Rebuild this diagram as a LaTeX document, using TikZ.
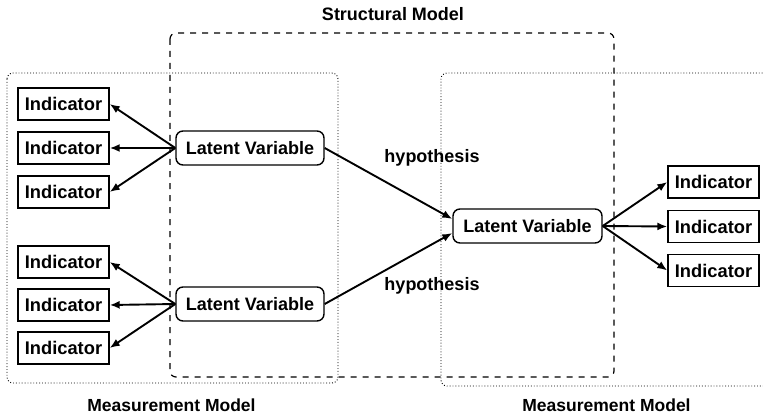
\documentclass[tikz,border=0pt]{standalone}
\usepackage{fontspec}
\setmainfont{Liberation Sans}
\usetikzlibrary{arrows.meta,calc}
\begin{document}
\begin{tikzpicture}[x=1pt,y=-1pt,
  indbox/.style={draw,line width=1.4pt,fill=white,minimum width=91pt,minimum height=32pt,inner sep=0pt,font=\fontsize{18.3}{20}\selectfont\bfseries},
  latbox/.style={draw,line width=1.4pt,fill=white,rounded corners=7pt,minimum width=148pt,minimum height=34pt,inner sep=0pt,font=\fontsize{18}{20}\selectfont\bfseries},
  arr/.style={line width=1.9pt,-{Latex[length=10pt,width=8pt]}},
  lbl/.style={font=\fontsize{18}{20}\selectfont\bfseries},
  mlbl/.style={font=\fontsize{17.5}{20}\selectfont\bfseries},
  dotbox/.style={line width=0.9pt,dotted,rounded corners=6pt},
  dashbox/.style={line width=1.2pt,dash pattern=on 6pt off 6pt,rounded corners=6pt}
]
\useasboundingbox (0,0) rectangle (763,417);
% frames
\draw[dotbox] (7,73) rectangle (338,383);
\draw[dotbox] (780,73) -- (441,73) -- (441,386) -- (780,386);
\draw[dashbox] (170,33) rectangle (614,377);
% labels
\node[lbl] (sm) at (393,14) {Structural Model};
\node[mlbl] (mm1) at (171.5,405) {Measurement Model};
\node[mlbl] (mm2) at (606.5,405) {Measurement Model};
% latent variables
\node[latbox] (lt) at (250,148) {Latent Variable};
\node[latbox] (lb) at (250,304) {Latent Variable};
\node[latbox,minimum width=149pt] (lm) at (527.5,226) {Latent Variable};
% indicators
\node[indbox] (i1) at (63.5,104) {Indicator};
\node[indbox] (i2) at (63.5,148) {Indicator};
\node[indbox] (i3) at (63.5,192) {Indicator};
\node[indbox] (i4) at (63.5,262) {Indicator};
\node[indbox] (i5) at (63.5,305) {Indicator};
\node[indbox] (i6) at (63.5,348) {Indicator};
\node[indbox] (r1) at (713.5,182) {Indicator};
\node[indbox] (r2) at (713.5,226.5) {Indicator};
\node[indbox] (r3) at (713.5,270.5) {Indicator};
% arrows
\draw[arr] (lt.west) -- (i1.east);
\draw[arr] (lt.west) -- (i2.east);
\draw[arr] (lt.west) -- (i3.east);
\draw[arr] (lb.west) -- (i4.east);
\draw[arr] (lb.west) -- (i5.east);
\draw[arr] (lb.west) -- (i6.east);
\draw[arr] (lm.east) -- (r1.west);
\draw[arr] (lm.east) -- (r2.west);
\draw[arr] (lm.east) -- (r3.west);
\draw[arr] (lt.east) -- ($(lm.west)+(0,-7)$);
\draw[arr] (lb.east) -- ($(lm.west)+(0,7)$);
\node[lbl] (h1) at (432,158) {hypothesis};
\node[lbl] (h2) at (432,286) {hypothesis};
\end{tikzpicture}
\end{document}
